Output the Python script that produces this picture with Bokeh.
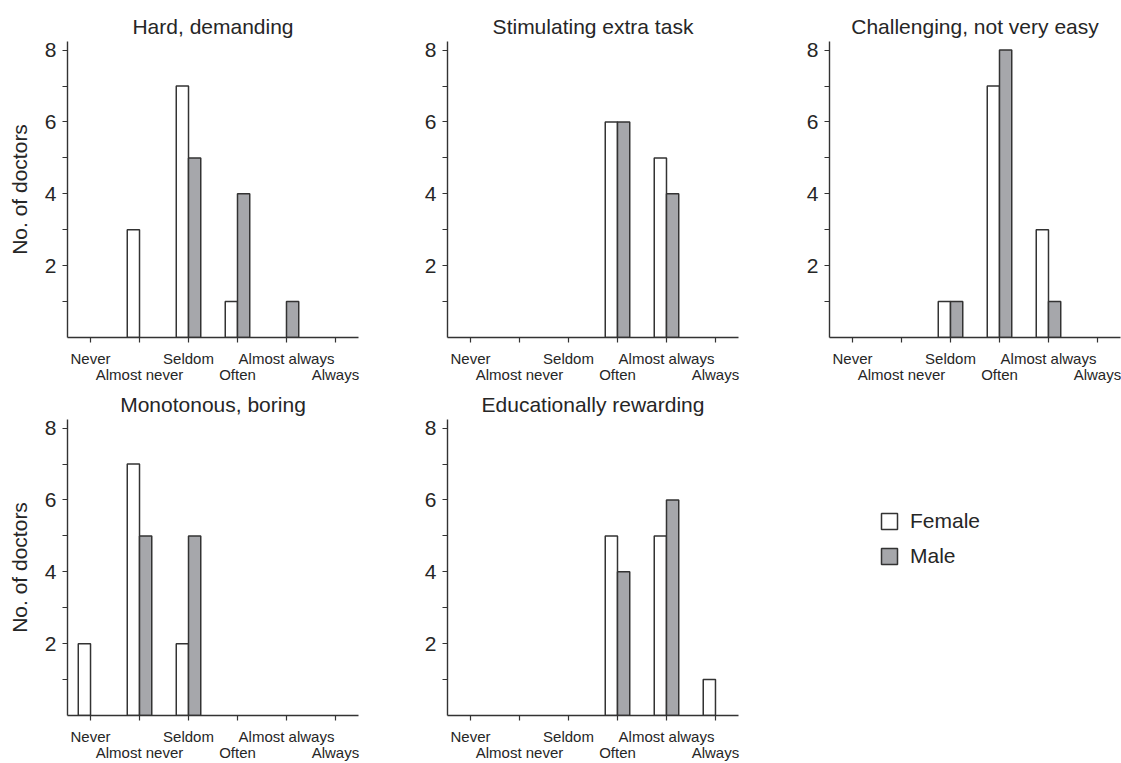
from bokeh.plotting import figure
from bokeh.layouts import gridplot
from bokeh.models import (ColumnDataSource, Range1d, FixedTicker, LinearAxis,
                          Legend, LegendItem)
from bokeh.embed import file_html
from bokeh.resources import INLINE

categories = ["Never", "Almost never", "Seldom", "Often", "Almost always", "Always"]

titles = ["Hard, demanding", "Stimulating extra task", "Challenging, not very easy",
          "Monotonous, boring", "Educationally rewarding"]

hard_female = [0, 3, 7, 1, 0, 0]
hard_male = [0, 0, 5, 4, 1, 0]
stim_female = [0, 0, 0, 6, 5, 0]
stim_male = [0, 0, 0, 6, 4, 0]
chal_female = [0, 0, 1, 7, 3, 0]
chal_male = [0, 0, 1, 8, 1, 0]
mono_female = [2, 7, 2, 0, 0, 0]
mono_male = [0, 5, 5, 0, 0, 0]
edu_female = [0, 0, 0, 5, 5, 1]
edu_male = [0, 0, 0, 4, 6, 0]

series = [(hard_female, hard_male), (stim_female, stim_male), (chal_female, chal_male),
          (mono_female, mono_male), (edu_female, edu_male)]

FONT = "Liberation Sans"
TXT = "#262626"
LINE = "#333333"
GRAY = "#a6a7ab"
BAR_W = 0.25

COL_W = [380, 382, 359]
ROW_H = [385, 378]
TOP_B = [41, 34]
FRAME_W = 291
FRAME_H = 296
LEFT_B = 67

xpos = list(range(1, len(categories) + 1))
odd_pos = xpos[0::2]
even_pos = xpos[1::2]


def base_fig(row, col, **kw):
    w = COL_W[col]
    h = ROW_H[row]
    return figure(width=w, height=h, output_backend="svg", toolbar_location=None,
                  min_border_left=LEFT_B, min_border_right=w - LEFT_B - FRAME_W,
                  min_border_top=TOP_B[row],
                  min_border_bottom=h - TOP_B[row] - FRAME_H, **kw)


def make_panel(idx):
    female, male = series[idx]
    row, col = divmod(idx, 3)
    p = base_fig(row, col, x_range=Range1d(0.53, 6.47), y_range=Range1d(0, 8.24),
                 x_axis_location=None, y_axis_location="left")
    p.title.text = titles[idx]
    p.title.align = "center"
    p.title.text_font = FONT
    p.title.text_font_size = "21px"
    p.title.text_font_style = "normal"
    p.title.text_color = TXT
    p.title.standoff = 8
    p.outline_line_color = None
    p.grid.visible = False
    p.background_fill_color = "white"
    p.border_fill_color = "white"

    fx = [x - BAR_W / 2 for x in xpos]
    mx = [x + BAR_W / 2 for x in xpos]
    fsrc = ColumnDataSource(dict(x=[a for a, v in zip(fx, female) if v > 0],
                                 top=[v for v in female if v > 0]))
    msrc = ColumnDataSource(dict(x=[a for a, v in zip(mx, male) if v > 0],
                                 top=[v for v in male if v > 0]))
    p.vbar(x="x", top="top", bottom=0, width=BAR_W, source=fsrc,
           fill_color="white", line_color=LINE, line_width=1.5)
    p.vbar(x="x", top="top", bottom=0, width=BAR_W, source=msrc,
           fill_color=GRAY, line_color=LINE, line_width=1.5)

    # y axis
    ya = p.yaxis[0]
    ya.ticker = FixedTicker(ticks=[2, 4, 6, 8], minor_ticks=[1, 3, 5, 7])
    ya.major_label_text_font = FONT
    ya.major_label_text_font_size = "21px"
    ya.major_label_text_color = TXT
    ya.major_tick_in = 0
    ya.major_tick_out = 5
    ya.minor_tick_in = 0
    ya.minor_tick_out = 5
    ya.major_label_standoff = 6
    ya.axis_line_color = LINE
    ya.major_tick_line_color = LINE
    ya.minor_tick_line_color = LINE
    ya.axis_line_width = 1.4
    ya.major_tick_line_width = 1.2
    ya.minor_tick_line_width = 1.2
    if col == 0:
        ya.axis_label = "No. of doctors"
        ya.axis_label_text_font = FONT
        ya.axis_label_text_font_size = "21px"
        ya.axis_label_text_font_style = "normal"
        ya.axis_label_text_color = TXT
        ya.axis_label_standoff = 11

    # x axis: ticks at every category, labels staggered on two lines
    xa1 = LinearAxis(ticker=FixedTicker(ticks=xpos, minor_ticks=[]))
    xa1.major_label_overrides = {x: (categories[x - 1] if x in odd_pos else "") for x in xpos}
    xa2 = LinearAxis(ticker=FixedTicker(ticks=even_pos, minor_ticks=[]))
    xa2.major_label_overrides = {x: categories[x - 1] for x in even_pos}
    for a in (xa1, xa2):
        a.major_label_text_font = FONT
        a.major_label_text_font_size = "15px"
        a.major_label_text_color = TXT
        a.major_tick_in = 0
        a.minor_tick_in = 0
        a.minor_tick_out = 0
    xa1.major_tick_out = 5
    xa1.major_label_standoff = 7
    xa1.axis_line_color = LINE
    xa1.axis_line_width = 1.4
    xa1.major_tick_line_color = LINE
    xa1.major_tick_line_width = 1.2
    xa2.major_tick_out = 0
    xa2.major_label_standoff = -4
    xa2.axis_line_color = None
    xa2.major_tick_line_color = None
    p.add_layout(xa1, "below")
    p.add_layout(xa2, "below")
    return p


panels = [make_panel(i) for i in range(5)]

# legend panel (its frame is aligned with the third column / second row)
lp = base_fig(1, 2, x_range=Range1d(0, 1), y_range=Range1d(0, 1))
lp.axis.visible = False
lp.grid.visible = False
lp.outline_line_color = None
# hidden swatch renderers: only the legend shows them
sw_f = ColumnDataSource(dict(x=[0.5], top=[0.5]))
sw_m = ColumnDataSource(dict(x=[0.5], top=[0.5]))
rf = lp.vbar(x="x", top="top", width=0.1, source=sw_f, fill_color="white",
             line_color=LINE, line_width=1.5, visible=False)
rm = lp.vbar(x="x", top="top", width=0.1, source=sw_m, fill_color=GRAY,
             line_color=LINE, line_width=1.5, visible=False)
legend = Legend(items=[LegendItem(label="Female", renderers=[rf]),
                       LegendItem(label="Male", renderers=[rm])],
                location=(50, 147), border_line_color=None,
                background_fill_alpha=0, padding=0, margin=0,
                glyph_width=20, glyph_height=20, label_height=20,
                spacing=11, label_standoff=11,
                label_text_font=FONT, label_text_font_size="21px",
                label_text_color=TXT)
lp.add_layout(legend, "center")

grid = gridplot([[panels[0], panels[1], panels[2]], [panels[3], panels[4], lp]],
                toolbar_location=None)

open("out.html", "w").write(file_html(grid, INLINE))
